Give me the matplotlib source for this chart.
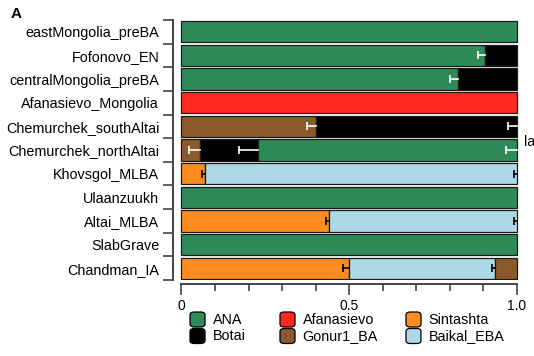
import matplotlib.pyplot as plt
from matplotlib.patches import FancyBboxPatch
from matplotlib.ticker import MultipleLocator

plt.rcParams['font.family'] = ['Liberation Sans', 'DejaVu Sans']

# populations, top to bottom
pops = ['eastMongolia_preBA', 'Fofonovo_EN', 'centralMongolia_preBA',
        'Afanasievo_Mongolia', 'Chemurchek_southAltai', 'Chemurchek_northAltai',
        'Khovsgol_MLBA', 'Ulaanzuukh', 'Altai_MLBA', 'SlabGrave', 'Chandman_IA']

# sources per population, in stacking order
parts = [['ANA'], ['ANA', 'Botai'], ['ANA', 'Botai'], ['Afanasievo'],
         ['Gonur1_BA', 'Botai'], ['Gonur1_BA', 'Botai', 'ANA'],
         ['Sintashta', 'Baikal_EBA'], ['ANA'], ['Sintashta', 'Baikal_EBA'],
         ['ANA'], ['Sintashta', 'Baikal_EBA', 'Gonur1_BA']]
fracs = [[1.0], [0.905, 0.095], [0.826, 0.174], [1.0],
         [0.40, 0.60], [0.056, 0.171, 0.773],
         [0.071, 0.929], [1.0], [0.441, 0.559],
         [1.0], [0.50, 0.435, 0.065]]
errs = [[0], [0.022, 0], [0.026, 0], [0],
        [0.026, 0.027], [0.033, 0.055, 0.031],
        [0.009, 0.008], [0], [0.011, 0.007],
        [0], [0.019, 0.009, 0]]

legend_order = ['ANA', 'Botai', 'Afanasievo', 'Gonur1_BA', 'Sintashta', 'Baikal_EBA']
colors = {'ANA': '#2e8b57', 'Botai': '#000000', 'Afanasievo': '#ff2a1f',
          'Gonur1_BA': '#8b5a2b', 'Sintashta': '#ff8c21', 'Baikal_EBA': '#add8e6'}
errcol = {'ANA': 'white', 'Botai': 'white', 'Afanasievo': 'white',
          'Gonur1_BA': 'white', 'Sintashta': 'black', 'Baikal_EBA': 'black'}

fs = 10.4
fig = plt.figure(figsize=(5.34, 3.56), dpi=100)
ax = fig.add_axes([173.1 / 534, 76 / 356, 347.1 / 534, 260 / 356])

for i, pop in enumerate(pops):
    left = 0
    for src, f, e in zip(parts[i], fracs[i], errs[i]):
        ax.barh(i, f, left=left, height=0.9, color=colors[src],
                edgecolor='#1a1a1a', linewidth=0.9, zorder=2)
        left += f
        if e > 0:
            # one-sided error: line back from the segment end, cap at the far end only
            ax.plot([left - e, left], [i, i], color=errcol[src], lw=1.2, zorder=3)
            ax.plot(left - e, i, marker='|', ms=6, mew=1.2, color=errcol[src], zorder=3)

ax.set_xlim(-0.025, 1.01)
ax.set_ylim(len(pops) - 0.5, -0.5)
ax.set_yticks(range(len(pops)), pops, fontsize=fs)
ax.set_yticks([k - 0.5 for k in range(len(pops) + 1)], minor=True)
ax.tick_params(axis='y', which='major', length=0, pad=10)
ax.tick_params(axis='y', which='minor', length=7, width=1.2, color='#444444')

ax.set_xticks([0, 0.5, 1.0], ['0', '0.5', '1.0'], fontsize=fs)
ax.xaxis.set_minor_locator(MultipleLocator(0.1))
ax.tick_params(axis='x', which='major', length=8, width=1.2, color='#444444', pad=3)
ax.tick_params(axis='x', which='minor', length=5, width=1.2, color='#444444')

for s in ['top', 'right']:
    ax.spines[s].set_visible(False)
ax.spines['left'].set_color('#444444')
ax.spines['left'].set_linewidth(1.4)
ax.spines['bottom'].set_color('#444444')
ax.spines['bottom'].set_linewidth(1.4)
ax.spines['bottom'].set_position(('outward', 3))
ax.spines['bottom'].set_bounds(0, 1.0)

# legend, 3 columns x 2 rows
col_x = [190, 280, 406]
row_y = [319.5, 336]
for k, src in enumerate(legend_order):
    cx = col_x[k // 2]
    cy = row_y[k % 2]
    box = FancyBboxPatch((cx / 534, (356 - cy - 7.5) / 356), 15 / 534, 15 / 356,
                         boxstyle='round,pad=0,rounding_size=0.008',
                         transform=fig.transFigure, facecolor=colors[src],
                         edgecolor='black', linewidth=0.9)
    fig.add_artist(box)
    fig.text((cx + 22.5) / 534, (356 - cy) / 356, src, fontsize=fs, va='center', ha='left')

fig.text(11 / 534, 1 - 13.5 / 356, 'A', fontsize=11, fontweight='bold', va='center')
fig.text(524 / 534, 1 - 142 / 356, 'la', fontsize=fs, va='center')

fig.savefig('out.png', dpi=100)
